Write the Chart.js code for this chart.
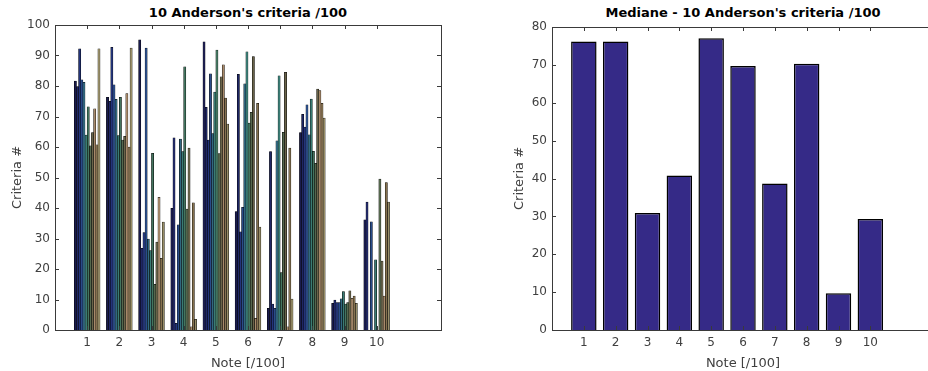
<!DOCTYPE html>
<html>
<head>
<meta charset="utf-8">
<script src="https://cdn.jsdelivr.net/npm/chart.js@4/dist/chart.umd.min.js"></script>
<style>
  html, body { margin: 0; padding: 0; background: #fff; overflow: hidden; width: 928px; height: 371px; }
  #left { position: absolute; left: 0; top: 0; width: 464px; height: 371px; }
  #right { position: absolute; left: 464px; top: 0; width: 480px; height: 371px; }
  .ttl { position: absolute; top: 5px; font: bold 13px "DejaVu Sans"; color: #000; white-space: nowrap;
         transform: translateX(-50%); line-height: 16px; }
</style>
</head>
<body>
<div class="ttl" style="left:248px">10 Anderson's criteria /100</div>
<div class="ttl" style="left:743px">Mediane - 10 Anderson's criteria /100</div>
<canvas id="left" width="464" height="371"></canvas>
<canvas id="right" width="480" height="371"></canvas>
<script>
// notes 1..10 on the x axis (axis runs 0..12 like the matlab plot)
const notes = [1, 2, 3, 4, 5, 6, 7, 8, 9, 10];
const tickLabels = ['', '1', '2', '3', '4', '5', '6', '7', '8', '9', '10', '', ''];

// one array per bar position inside a group (12 per note)
const c1  = [81.6, 76.3, 95.1, 39.9, 94.5, 38.8,  7.1, 64.7,  8.7, 36.1];
const c2  = [79.8, 75.0, 26.8, 63.0, 73.0, 83.8, 58.5, 70.7,  9.8, 41.9];
const c3  = [92.2, 92.7, 31.9,  2.2, 62.3, 32.2,  8.5, 66.5,  9.0,  0.0];
const c4  = [82.0, 80.4, 92.4, 34.5, 84.0, 40.2,  7.1, 73.8,  9.0, 35.5];
const c5  = [81.2, 75.6, 29.8, 62.6, 64.4, 80.7, 62.0, 64.0, 10.2,  0.0];
const c6  = [63.9, 63.7, 26.0, 58.5, 78.0, 91.2, 83.3, 75.7, 12.6, 23.0];
const c7  = [73.2, 76.3, 57.9, 86.3, 91.8, 67.8, 18.8, 58.6,  8.5,  0.0];
const c8  = [60.4, 62.3, 15.0, 39.6, 57.8, 71.4, 64.8, 54.6,  9.0, 49.5];
const c9  = [64.7, 63.5, 28.8, 59.6, 83.0, 89.6, 84.5, 79.0, 12.8, 22.6];
const c10 = [72.5, 77.5, 43.5,  1.0, 86.9,  3.8,  1.0, 78.5, 10.4, 11.1];
const c11 = [60.7, 60.0, 23.5, 41.7, 76.0, 74.3, 59.6, 74.3, 11.1, 48.3];
const c12 = [92.2, 92.4, 35.4,  3.5, 67.5, 33.7, 10.1, 69.5,  8.7, 41.9];

const median = [76.2, 76.2, 30.9, 40.8, 77.0, 69.7, 38.7, 70.3, 9.7, 29.3];

const barColors = ['#1a1c4e', '#1f2766', '#24357c', '#2a4d8a', '#316880', '#3a7c74',
                   '#447660', '#56684e', '#6a644a', '#a88a6a', '#867250', '#988e68'];

const FONT = 'DejaVu Sans';
const AXIS = '#3a3a3a';

// pad a per-note array out to the 0..12 category axis
const onAxis = arr => [null].concat(arr, [null, null]);

// matlab style box with inward ticks, drawn from the scales
const boxPlugin = {
  id: 'box',
  afterDatasetsDraw(chart) {
    const { ctx, chartArea: a, scales: { x, y } } = chart;
    ctx.save();
    ctx.strokeStyle = AXIS;
    ctx.lineWidth = 1;
    ctx.strokeRect(Math.round(a.left) + 0.5, Math.round(a.top) + 0.5,
                   Math.round(a.right) - Math.round(a.left), Math.round(a.bottom) - Math.round(a.top));
    ctx.beginPath();
    x.ticks.forEach((t, i) => {
      if (!t.label) return;
      const px = Math.round(x.getPixelForTick(i)) + 0.5;
      ctx.moveTo(px, a.bottom); ctx.lineTo(px, a.bottom - 4);
      ctx.moveTo(px, a.top); ctx.lineTo(px, a.top + 4);
    });
    y.ticks.forEach((t, i) => {
      const py = Math.round(y.getPixelForTick(i)) + 0.5;
      ctx.moveTo(a.left, py); ctx.lineTo(a.left + 4, py);
      ctx.moveTo(a.right, py); ctx.lineTo(a.right - 4, py);
    });
    ctx.stroke();
    ctx.restore();
  }
};

function axes(yMax, yWidth, yTitlePad) {
  return {
    x: {
      type: 'category',
      offset: false,
      grid: { display: false, drawTicks: false },
      border: { display: false },
      ticks: { autoSkip: false, maxRotation: 0, padding: 6, color: '#404040', font: { family: FONT, size: 12 } },
      title: { display: true, text: 'Note [/100]', color: '#404040', font: { family: FONT, size: 13 },
               padding: { top: 3, bottom: 0 } },
      afterFit: s => { s.height = 41; }
    },
    y: {
      min: 0, max: yMax,
      grid: { display: false, drawTicks: false },
      border: { display: false },
      ticks: { stepSize: 10, padding: 5, color: '#404040', font: { family: FONT, size: 12 } },
      title: { display: true, text: 'Criteria #', color: '#404040', font: { family: FONT, size: 13 },
               padding: { top: yTitlePad, bottom: 0 } },
      afterFit: s => { s.width = yWidth; }
    }
  };
}

const common = {
  responsive: false,
  animation: false,
  plugins: { legend: { display: false }, tooltip: { enabled: false } }
};

const groups = [c1, c2, c3, c4, c5, c6, c7, c8, c9, c10, c11, c12];

new Chart(document.getElementById('left'), {
  type: 'bar',
  data: {
    labels: tickLabels,
    datasets: groups.map((g, i) => ({
      label: 'c' + (i + 1),
      data: onAxis(g),
      backgroundColor: barColors[i],
      borderColor: '#000',
      borderWidth: 0.5,
      inflateAmount: 0.35,
      categoryPercentage: 0.8,
      barPercentage: 1.0
    }))
  },
  options: Object.assign({}, common, {
    layout: { padding: { top: 25, right: 23, left: 0, bottom: 0 } },
    scales: axes(100, 55, 10)
  }),
  plugins: [boxPlugin]
});

new Chart(document.getElementById('right'), {
  type: 'bar',
  data: {
    labels: tickLabels,
    datasets: [{
      label: 'Mediane',
      data: onAxis(median),
      backgroundColor: '#352a87',
      borderColor: '#000',
      borderWidth: 1.5,
      categoryPercentage: 0.8,
      barPercentage: 1.0
    }]
  },
  options: Object.assign({}, common, {
    layout: { padding: { top: 27, right: 10, left: 0, bottom: 0 } },
    scales: axes(80, 88, 48)
  }),
  plugins: [boxPlugin]
});
</script>
</body>
</html>
